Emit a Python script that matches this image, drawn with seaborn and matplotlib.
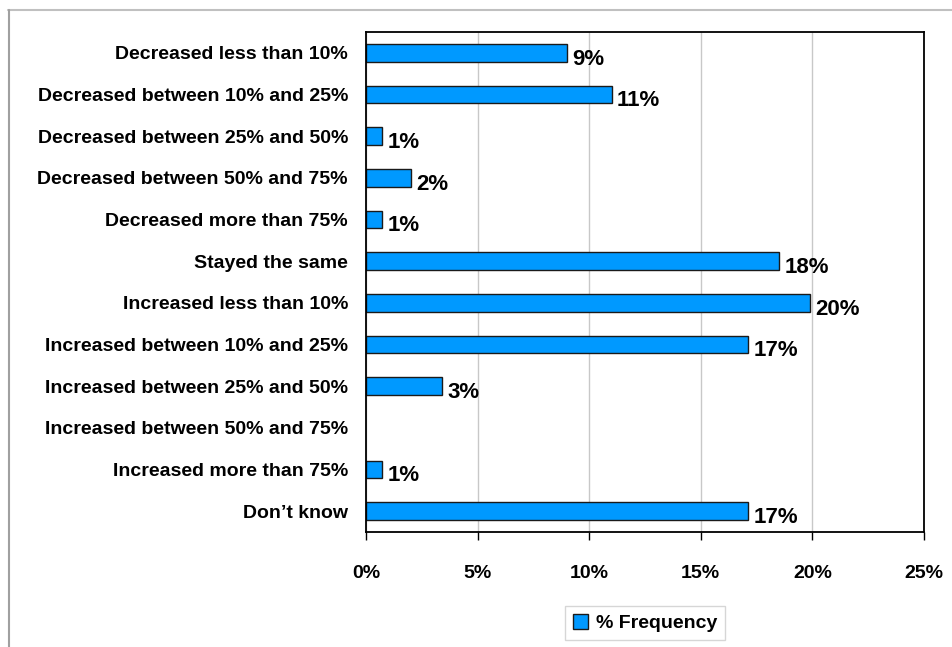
import matplotlib
matplotlib.use("Agg")
import matplotlib.pyplot as plt
import seaborn as sns
import pandas as pd
from matplotlib.lines import Line2D
from matplotlib.patches import Patch

categories = [
    "Decreased less than 10%",
    "Decreased between 10% and 25%",
    "Decreased between 25% and 50%",
    "Decreased between 50% and 75%",
    "Decreased more than 75%",
    "Stayed the same",
    "Increased less than 10%",
    "Increased between 10% and 25%",
    "Increased between 25% and 50%",
    "Increased between 50% and 75%",
    "Increased more than 75%",
    "Don\u2019t know",
]
values = [9.0, 11.0, 0.7, 2.0, 0.7, 18.5, 19.9, 17.1, 3.4, 0.0, 0.7, 17.1]
value_labels = ["9%", "11%", "1%", "2%", "1%", "18%", "20%", "17%", "3%", "", "1%", "17%"]
x_ticks = [0, 5, 10, 15, 20, 25]
x_tick_labels = ["0%", "5%", "10%", "15%", "20%", "25%"]
series_name = "% Frequency"

sns.set_theme(style="white")
plt.rcParams['font.family'] = ['Liberation Sans', 'DejaVu Sans']
plt.rcParams['font.weight'] = 'bold'
plt.rcParams['text.color'] = 'black'
plt.rcParams['xtick.color'] = 'black'
plt.rcParams['ytick.color'] = 'black'

df = pd.DataFrame({"category": categories, "value": values})

fig = plt.figure(figsize=(9.53, 6.47), dpi=100)
ax = fig.add_axes([366/953, 1-532/647, (924-366)/953, (532-32)/647])

bar_color = "#0099FF"
sns.barplot(data=df, y="category", x="value", orient="h", color=bar_color,
            edgecolor="#1a1a1a", linewidth=1.0, width=0.43, saturation=1, ax=ax)
for p in ax.patches:
    if p.get_width() == 0:
        p.set_linewidth(0)
        p.set_visible(False)

ax.set_xlim(0, 25)
ax.set_ylim(11.5, -0.5)
ax.set_xticks(x_ticks)
ax.set_xticklabels(x_tick_labels, fontsize=14, fontweight='bold', color='black')
ax.tick_params(axis='x', which='both', direction='out', length=6, width=1, color='black', pad=18, bottom=True)
ax.tick_params(axis='y', length=0, pad=13, labelsize=14)
for t in ax.get_yticklabels():
    t.set_fontweight('bold')
    t.set_color('black')
ax.set_xlabel("")
ax.set_ylabel("")
ax.grid(axis='x', color='#c8c8c8', linewidth=1)
ax.set_axisbelow(True)
for s in ax.spines.values():
    s.set_visible(True)
    s.set_color('black')
    s.set_linewidth(1.3)

for i, (v, lab) in enumerate(zip(values, value_labels)):
    if lab:
        ax.text(v + 0.25, i + 0.15, lab, va='center', ha='left', fontsize=16, fontweight='bold', color='black')

handles = [Patch(facecolor=bar_color, edgecolor='#1a1a1a', linewidth=1.0, label=series_name)]
leg = fig.legend(handles=handles, loc='center', bbox_to_anchor=(645/953, 1-623/647),
                 frameon=True, fancybox=False, handlelength=0.8, handleheight=0.8,
                 handletextpad=0.4, borderpad=0.4, prop={'weight': 'bold', 'size': 14})
leg.get_frame().set_edgecolor('#cccccc')
leg.get_frame().set_linewidth(1)
for t in leg.get_texts():
    t.set_color('black')

# outer chart frame lines
fig.add_artist(Line2D([8/953, 952/953], [1-10/647, 1-10/647], color='#c0c0c0', linewidth=1.5))
fig.add_artist(Line2D([9/953, 9/953], [1-10/647, 0], color='#a0a0a0', linewidth=1.5))

fig.savefig("out.png", dpi=100)
